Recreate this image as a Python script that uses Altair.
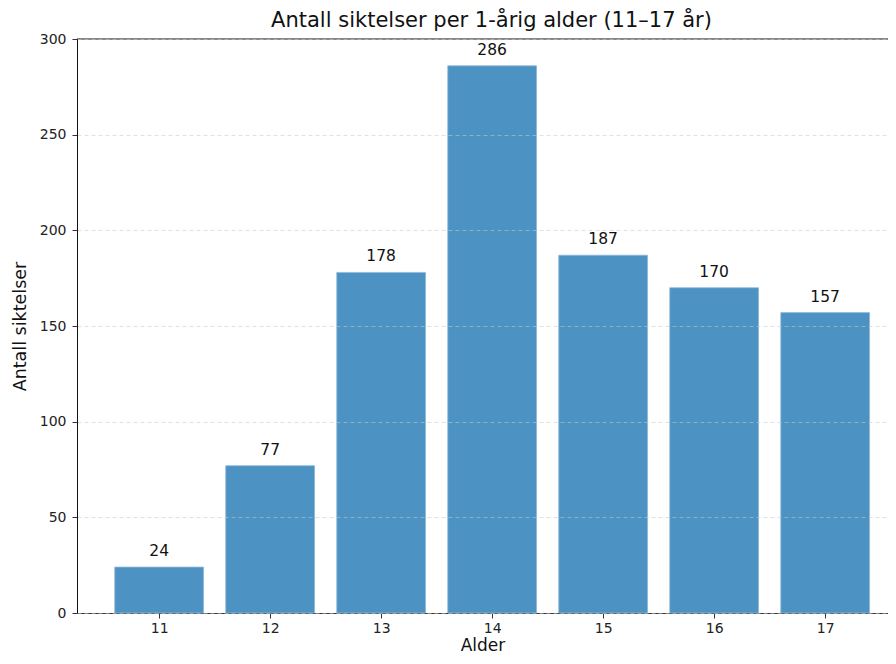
import altair as alt
import pandas as pd

ages = [11, 12, 13, 14, 15, 16, 17]
counts = [24, 77, 178, 286, 187, 170, 157]
y_ticks = [0, 50, 100, 150, 200, 250, 300]

df = pd.DataFrame({"age": ages, "count": counts})

FONT = "DejaVu Sans"
xscale = alt.Scale(domain=[10.26, 17.566], nice=False, zero=False)
yscale = alt.Scale(domain=[0, 300], nice=False)

base = alt.Chart(df).transform_calculate(
    x0="datum.age - 0.4", x1="datum.age + 0.4"
)

bars = base.mark_bar(color="#4c92c3", stroke="#8fb9da", strokeWidth=0.8).encode(
    x=alt.X("x0:Q", scale=xscale,
            axis=alt.Axis(values=ages, title="Alder", format="d", grid=False,
                          labelFontSize=14, titleFontSize=17, titleFontWeight="normal",
                          labelFont=FONT, titleFont=FONT, labelColor="#222", titleColor="#111",
                          domainColor="#333", tickColor="#333", tickSize=5,
                          labelPadding=3, titlePadding=2, domainWidth=1)),
    x2="x1:Q",
    y=alt.Y("count:Q", scale=yscale,
            axis=alt.Axis(values=y_ticks, title="Antall siktelser", grid=True,
                          gridDash=[4, 3], gridColor="#c8c8c8", gridOpacity=0.7, gridWidth=0.8,
                          labelFontSize=14, titleFontSize=17.5, titleFontWeight="normal",
                          labelFont=FONT, titleFont=FONT, labelColor="#222", titleColor="#111",
                          domainColor="#111", tickColor="#333", tickSize=5,
                          labelPadding=6, titlePadding=10, domainWidth=1, zindex=1)),
    y2=alt.datum(0),
)

labels = base.mark_text(dy=-16, fontSize=15.5, font=FONT, color="#111").encode(
    x=alt.X("age:Q", scale=xscale),
    y=alt.Y("count:Q", scale=yscale),
    text=alt.Text("count:Q"),
)

top = alt.Chart(pd.DataFrame({"v": [300]})).mark_rule(color="#111", strokeWidth=1).encode(
    y=alt.Y("v:Q", scale=yscale)
)

chart = alt.layer(bars, labels, top).properties(
    width=811, height=574,
    title=alt.TitleParams("Antall siktelser per 1-årig alder (11–17 år)", fontSize=21,
                          font=FONT, fontWeight="normal", color="#111", offset=1, dx=9),
    autosize=alt.AutoSizeParams(type="none"),
    padding={"left": 69, "top": 31, "right": 0, "bottom": 43},
).configure_view(stroke=None)

chart.save("out.html", embed_options={"renderer": "svg", "actions": False})
